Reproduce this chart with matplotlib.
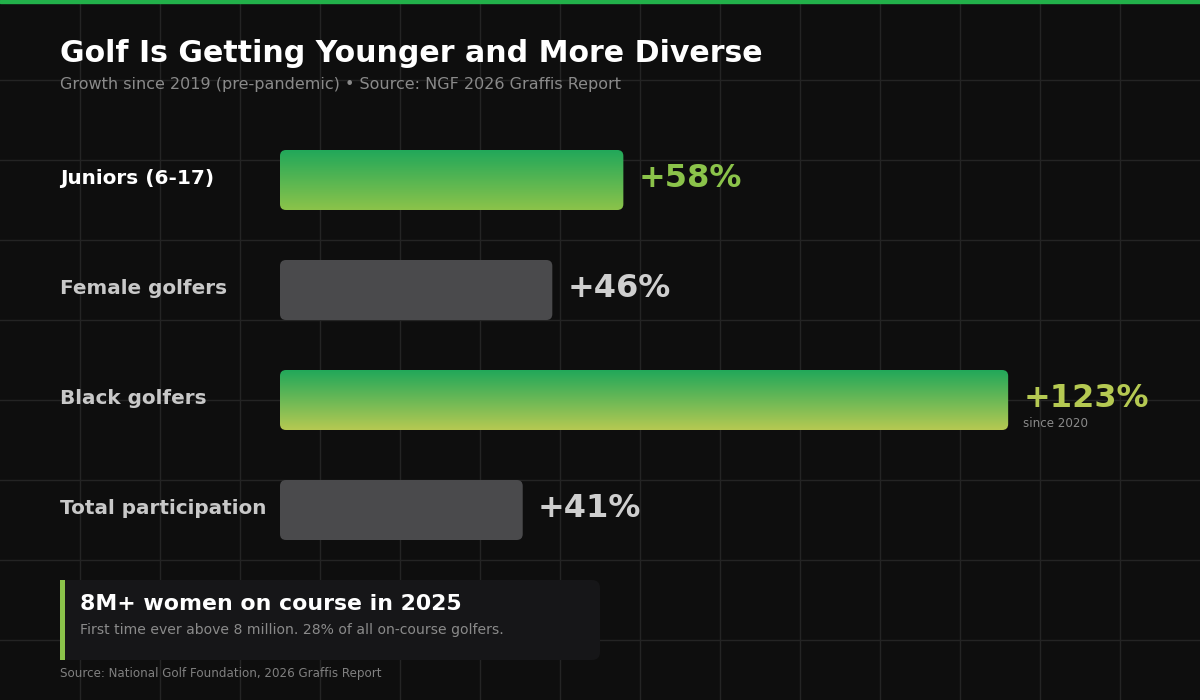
import numpy as np
import matplotlib
matplotlib.use("Agg")
from matplotlib import pyplot as plt
from matplotlib.patches import FancyBboxPatch, Rectangle
from matplotlib.colors import LinearSegmentedColormap

plt.rcParams['font.family'] = ['DejaVu Sans']

## data
categories = ["Juniors (6-17)", "Female golfers", "Black golfers", "Total participation"]
growth = [58, 46, 123, 41]
value_labels = ["+58%", "+46%", "+123%", "+41%"]
highlight = [True, False, True, False]
notes = ["", "", "since 2020", ""]

title = "Golf Is Getting Younger and More Diverse"
subtitle = "Growth since 2019 (pre-pandemic) \u2022 Source: NGF 2026 Graffis Report"
callout_title = "8M+ women on course in 2025"
callout_text = "First time ever above 8 million. 28% of all on-course golfers."
source = "Source: National Golf Foundation, 2026 Graffis Report"

## colours
BG = "#0e0e0e"
GRID = "#242424"
GREEN = "#22a85a"
grad_bottom = ["#8bc34a", None, "#b5c952", None]
val_colors = ["#8bc34a", "#cfcfcf", "#b5c952", "#cfcfcf"]
GRAY_BAR = "#4a4a4c"

W, H = 1200, 700
fig = plt.figure(figsize=(12, 7), dpi=100, facecolor=BG)

# background axes in pixel units
bg = fig.add_axes([0, 0, 1, 1])
bg.set_xlim(0, W); bg.set_ylim(H, 0)
bg.set_facecolor(BG)
bg.axis("off")
for gx in range(80, W, 80):
    bg.axvline(gx, color=GRID, lw=1, zorder=0)
for gy in range(80, H, 80):
    bg.axhline(gy, color=GRID, lw=1, zorder=0)
bg.add_patch(Rectangle((0, 0), W, 3, color="#22b04a", zorder=5))

bg.text(60, 53, title, color="white", fontsize=21.6, fontweight="bold", va="center")
bg.text(60, 85, subtitle, color="#8a8a8a", fontsize=11.5, va="center")

# bar axes: x in percent, rows of 110 px starting at y=125
px_per_pct = 5.92
x0_px, y0_px, rows_h = 280, 125, 110 * len(categories)
axb = fig.add_axes([x0_px / W, 1 - (y0_px + rows_h) / H, (W - x0_px) / W, rows_h / H])
axb.set_xlim(0, (W - x0_px) / px_per_pct)
axb.set_ylim(len(categories) - 0.5, -0.5)
axb.axis("off")
axb.patch.set_alpha(0)

bar_h = 60 / 110
r_x = 6 / px_per_pct
aspect = px_per_pct / 110

for i, (cat, v) in enumerate(zip(categories, growth)):
    yb = i - bar_h / 2
    patch = FancyBboxPatch((0, yb), v, bar_h,
                           boxstyle=f"round,pad=0,rounding_size={r_x}",
                           mutation_aspect=aspect, lw=0,
                           facecolor=GRAY_BAR if not highlight[i] else "none")
    axb.add_patch(patch)
    if highlight[i]:
        cmap = LinearSegmentedColormap.from_list("g", [GREEN, grad_bottom[i]])
        grad = np.linspace(0, 1, 64).reshape(-1, 1)
        im = axb.imshow(grad, cmap=cmap, aspect="auto", origin="upper",
                        extent=(0, v, yb + bar_h, yb), interpolation="bicubic")
        im.set_clip_path(patch)
    # value label
    axb.text(v + 15 / px_per_pct, i - 0.01, value_labels[i], color=val_colors[i],
             fontsize=23, fontweight="bold", va="center", ha="left")
    if notes[i]:
        axb.text(v + 15 / px_per_pct, i + 0.21, notes[i], color="#8a8a8a",
                 fontsize=8.6, va="center", ha="left")
    # category label
    bg.text(60, y0_px + 55 + 110 * i - 2, cat,
            color="white" if i == 0 else "#c8c8c8",
            fontsize=14.4, fontweight="bold", va="center")

# callout box
bg.add_patch(FancyBboxPatch((60, 580), 540, 80, boxstyle="round,pad=0,rounding_size=8",
                            facecolor="#161618", lw=0, zorder=2))
bg.add_patch(Rectangle((60, 580), 5, 80, color="#8bc34a", lw=0, zorder=3))
bg.text(80, 604, callout_title, color="white", fontsize=15.8, fontweight="bold",
        va="center", zorder=4)
bg.text(80, 630, callout_text, color="#8a8a8a", fontsize=10.1, va="center", zorder=4)
bg.text(60, 673, source, color="#808080", fontsize=8.6, va="center")

fig.savefig("out.png", dpi=100, facecolor=BG)
